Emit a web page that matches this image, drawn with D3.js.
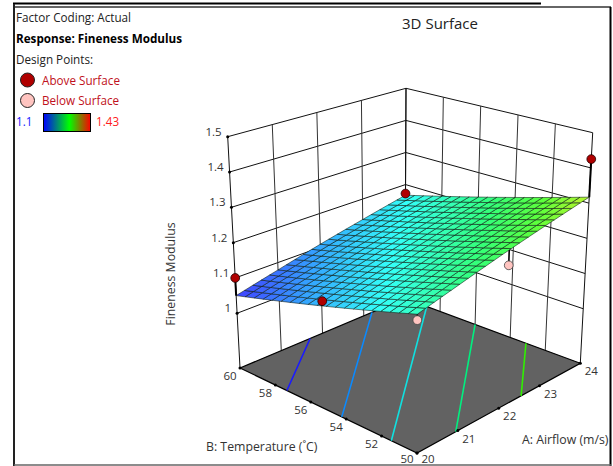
<!DOCTYPE html>
<html>
<head>
<meta charset="utf-8">
<script src="https://cdn.jsdelivr.net/npm/d3@7"></script>
<style>
  html, body { margin: 0; padding: 0; background: #fff; }
  svg { display: block; }
  text { font-family: "Open Sans", sans-serif; }
</style>
</head>
<body>
<div id="chart"></div>
<script>
var airflowTicks = [20, 21, 22, 23, 24];
var tempTicks = [50, 52, 54, 56, 58, 60];
var modulusTicks = [1, 1.1, 1.2, 1.3, 1.4, 1.5];

// fitted surface, one row per temperature tick
var surfaceZ = [
  [1.200, 1.229, 1.259, 1.288, 1.317],
  [1.170, 1.199, 1.229, 1.258, 1.287],
  [1.140, 1.169, 1.199, 1.228, 1.257],
  [1.110, 1.139, 1.169, 1.198, 1.227],
  [1.080, 1.109, 1.139, 1.168, 1.197],
  [1.050, 1.079, 1.109, 1.138, 1.167]
];

var pointAirflow = [20, 20, 24, 24, 20, 22.15];
var pointTemp = [60, 55.2, 60, 50, 50, 50];
var pointModulus = [1.1, 1.135, 1.172, 1.425, 1.185, 1.222];

var contourLevels = [1.09, 1.136, 1.182, 1.228, 1.274];
var contourColors = ["#1a1aff", "#0a8aff", "#10e0e0", "#00f080", "#30f000"];
var contourStartA = [20, 20, 20, 20.95, 22.55];
var contourStartB = [57.35, 54.25, 51.45, 50, 50];
var contourEndA = [21.7, 23.2, 24, 24, 24];
var contourEndB = [60, 60, 58.76, 56, 53.1];

var width = 613;
var height = 466;
var meshSize = 20;

var svg = d3.select("#chart").append("svg")
  .attr("width", width)
  .attr("height", height);

// Box corners on screen, the picture is bilinear along each edge
var floorBox = { left: [240, 368], front: [417, 453], right: [580.3, 363.3], back: [405, 298.5] };
var topBox = { left: [227.7, 136.7], front: [417.6, 197], right: [592.7, 132.7], back: [406, 88.3] };

var uScale = d3.scaleLinear().domain([20, 24]).range([0, 1]);
var vScale = d3.scaleLinear().domain([50, 60]).range([0, 1]);
var wScale = d3.scaleLinear().domain([0.845, 1.5]).range([0, 1]);

function boxPoint(box, u, v) {
  return [0, 1].map(function(i) {
    return (1 - u) * (1 - v) * box.front[i] + u * (1 - v) * box.right[i] +
      (1 - u) * v * box.left[i] + u * v * box.back[i];
  });
}

function project(a, b, z) {
  var u = uScale(a), v = vScale(b), w = wScale(z);
  var f = boxPoint(floorBox, u, v);
  var t = boxPoint(topBox, u, v);
  return [f[0] + (t[0] - f[0]) * w, f[1] + (t[1] - f[1]) * w];
}

// look up the surface between the grid rows
var colIndex = d3.scaleLinear().domain(d3.extent(airflowTicks)).range([0, airflowTicks.length - 1]);
var rowIndex = d3.scaleLinear().domain(d3.extent(tempTicks)).range([0, tempTicks.length - 1]);

function surfaceAt(a, b) {
  var c = colIndex(a), r = rowIndex(b);
  var c0 = Math.min(Math.floor(c), airflowTicks.length - 2);
  var r0 = Math.min(Math.floor(r), tempTicks.length - 2);
  var fc = c - c0, fr = r - r0;
  return surfaceZ[r0][c0] * (1 - fc) * (1 - fr) + surfaceZ[r0][c0 + 1] * fc * (1 - fr) +
    surfaceZ[r0 + 1][c0] * (1 - fc) * fr + surfaceZ[r0 + 1][c0 + 1] * fc * fr;
}

var surfaceColor = d3.scaleLinear()
  .domain([1.05, 1.11, 1.17, 1.24, 1.28, 1.32])
  .range(["#4040ff", "#34a8ff", "#34fff8", "#34ff78", "#5cff3c", "#c4f42c"]);

var line = d3.line();
var aMin = 20, aMax = 24, bMin = 50, bMax = 60, zLow = 0.845, zHigh = 1.5;

function seg(p, q, color, w) {
  svg.append("path").attr("d", line([p, q]))
    .attr("fill", "none").attr("stroke", color).attr("stroke-width", w);
}

// Walls
modulusTicks.forEach(function(z) {
  seg(project(aMin, bMax, z), project(aMax, bMax, z), "#111", 1);
  seg(project(aMax, bMax, z), project(aMax, bMin, z), "#111", 1);
});
airflowTicks.forEach(function(a) {
  seg(project(a, bMax, zLow), project(a, bMax, zHigh), a === aMin || a === aMax ? "#111" : "#333", 1);
});
tempTicks.forEach(function(b) {
  seg(project(aMax, b, zLow), project(aMax, b, zHigh), b === bMin || b === bMax ? "#111" : "#333", 1);
});

// Floor
var floorCorners = [[aMin, bMax], [aMin, bMin], [aMax, bMin], [aMax, bMax]].map(function(c) {
  return project(c[0], c[1], zLow);
});
svg.append("path")
  .attr("d", line(floorCorners) + "Z")
  .attr("fill", "#626262")
  .attr("stroke", "#000")
  .attr("stroke-width", 1.2);

contourLevels.forEach(function(level, i) {
  seg(project(contourStartA[i], contourStartB[i], zLow),
    project(contourEndA[i], contourEndB[i], zLow), contourColors[i], 1.6);
});

// Tick dots and labels
var tickLabels = svg.append("g").attr("font-size", 11.5).attr("fill", "#333");

modulusTicks.forEach(function(z) {
  var p = project(aMin, bMax, z);
  svg.append("circle").attr("cx", p[0]).attr("cy", p[1]).attr("r", 1.5).attr("fill", "#000");
  tickLabels.append("text").attr("x", p[0] - 6).attr("y", p[1] - 1)
    .attr("text-anchor", "end").text(z);
});
tempTicks.forEach(function(b) {
  var p = project(aMin, b, zLow);
  svg.append("circle").attr("cx", p[0]).attr("cy", p[1]).attr("r", 1.5).attr("fill", "#000");
  tickLabels.append("text").attr("x", p[0] - 10).attr("y", Math.min(p[1] + 12, 462.5))
    .attr("text-anchor", "middle").text(b);
});
airflowTicks.forEach(function(a) {
  var p = project(a, bMin, zLow);
  svg.append("circle").attr("cx", p[0]).attr("cy", p[1]).attr("r", 1.5).attr("fill", "#000");
  tickLabels.append("text").attr("x", p[0] + 11).attr("y", Math.min(p[1] + 12, 462.5))
    .attr("text-anchor", "middle").text(a);
});

// Design points, below surface ones go under the mesh
var designPoints = pointAirflow.map(function(a, i) {
  return { a: a, b: pointTemp[i], z: pointModulus[i], above: pointModulus[i] > surfaceAt(a, pointTemp[i]) };
});

function drawPoint(d) {
  var p = project(d.a, d.b, d.z);
  seg(p, project(d.a, d.b, surfaceAt(d.a, d.b)), "#000", d.above ? 2 : 1.6);
  svg.append("circle").attr("cx", p[0]).attr("cy", p[1]).attr("r", 4.4)
    .attr("fill", d.above ? "#b00000" : "#ffc4c0")
    .attr("stroke", d.above ? "#200000" : "#444")
    .attr("stroke-width", 0.8);
}

designPoints.filter(function(d) { return !d.above; }).forEach(drawPoint);

// Surface mesh
var meshA = d3.scaleLinear().domain([0, meshSize]).range([aMin, aMax]);
var meshB = d3.scaleLinear().domain([0, meshSize]).range([bMin, bMax]);
var cells = [];
d3.range(meshSize).forEach(function(i) {
  d3.range(meshSize).forEach(function(j) {
    cells.push({ i: i, j: j });
  });
});

function meshPoint(i, j) {
  return project(meshA(i), meshB(j), surfaceAt(meshA(i), meshB(j)));
}

svg.append("g").selectAll("path")
  .data(cells)
  .enter()
  .append("path")
  .attr("d", function(d) {
    return line([meshPoint(d.i, d.j), meshPoint(d.i + 1, d.j), meshPoint(d.i + 1, d.j + 1), meshPoint(d.i, d.j + 1)]) + "Z";
  })
  .attr("fill", function(d) { return surfaceColor(surfaceAt(meshA(d.i + 0.5), meshB(d.j + 0.5))); })
  .attr("stroke", "#0a1a10")
  .attr("stroke-width", 0.7)
  .attr("stroke-opacity", 0.8);

designPoints.filter(function(d) { return d.above; }).forEach(drawPoint);

// Axis titles
var titles = svg.append("g").attr("font-size", 12.3).attr("fill", "#333");
titles.append("text").attr("x", 206).attr("y", 451).text("B: Temperature (˚C)");
titles.append("text").attr("x", 522).attr("y", 444).text("A: Airflow (m/s)");
titles.append("text").attr("transform", "translate(175,274) rotate(-90)")
  .attr("text-anchor", "middle").text("Fineness Modulus");
svg.append("text").attr("x", 440).attr("y", 29).attr("text-anchor", "middle")
  .attr("font-size", 15).attr("fill", "#222").text("3D Surface");

// Legend
var legend = svg.append("g").attr("font-size", 11.7).attr("fill", "#222");
legend.append("text").attr("x", 16).attr("y", 22).text("Factor Coding: Actual");
legend.append("text").attr("x", 16).attr("y", 43).attr("font-weight", "bold").attr("fill", "#000").text("Response: Fineness Modulus");
legend.append("text").attr("x", 16).attr("y", 64).text("Design Points:");
legend.append("circle").attr("cx", 27.5).attr("cy", 80).attr("r", 7).attr("fill", "#b00000").attr("stroke", "#222");
legend.append("text").attr("x", 42).attr("y", 85).attr("fill", "#c01020").text("Above Surface");
legend.append("circle").attr("cx", 27.5).attr("cy", 100.5).attr("r", 7).attr("fill", "#ffc4c0").attr("stroke", "#222");
legend.append("text").attr("x", 42).attr("y", 105).attr("fill", "#c01020").text("Below Surface");
legend.append("text").attr("x", 16).attr("y", 126).attr("fill", "#2020ff").text("1.1");
legend.append("text").attr("x", 96).attr("y", 126).attr("fill", "#ff2020").text("1.43");

var gradient = svg.append("defs").append("linearGradient").attr("id", "legend-ramp");
gradient.append("stop").attr("offset", "0%").attr("stop-color", "#0000ff");
gradient.append("stop").attr("offset", "55%").attr("stop-color", "#00ff00");
gradient.append("stop").attr("offset", "100%").attr("stop-color", "#ff0000");
legend.append("rect").attr("x", 43.5).attr("y", 113.5).attr("width", 47).attr("height", 18)
  .attr("fill", "url(#legend-ramp)").attr("stroke", "#000");

// Frame
seg([13, 3.5], [541, 3.5], "#000", 2);
seg([14, 7], [611, 7], "#333", 1.5);
seg([14, 4], [14, 466], "#222", 2);
seg([610.5, 7], [610.5, 466], "#000", 2);
seg([14, 465], [611, 465], "#666", 1.5);
</script>
</body>
</html>
